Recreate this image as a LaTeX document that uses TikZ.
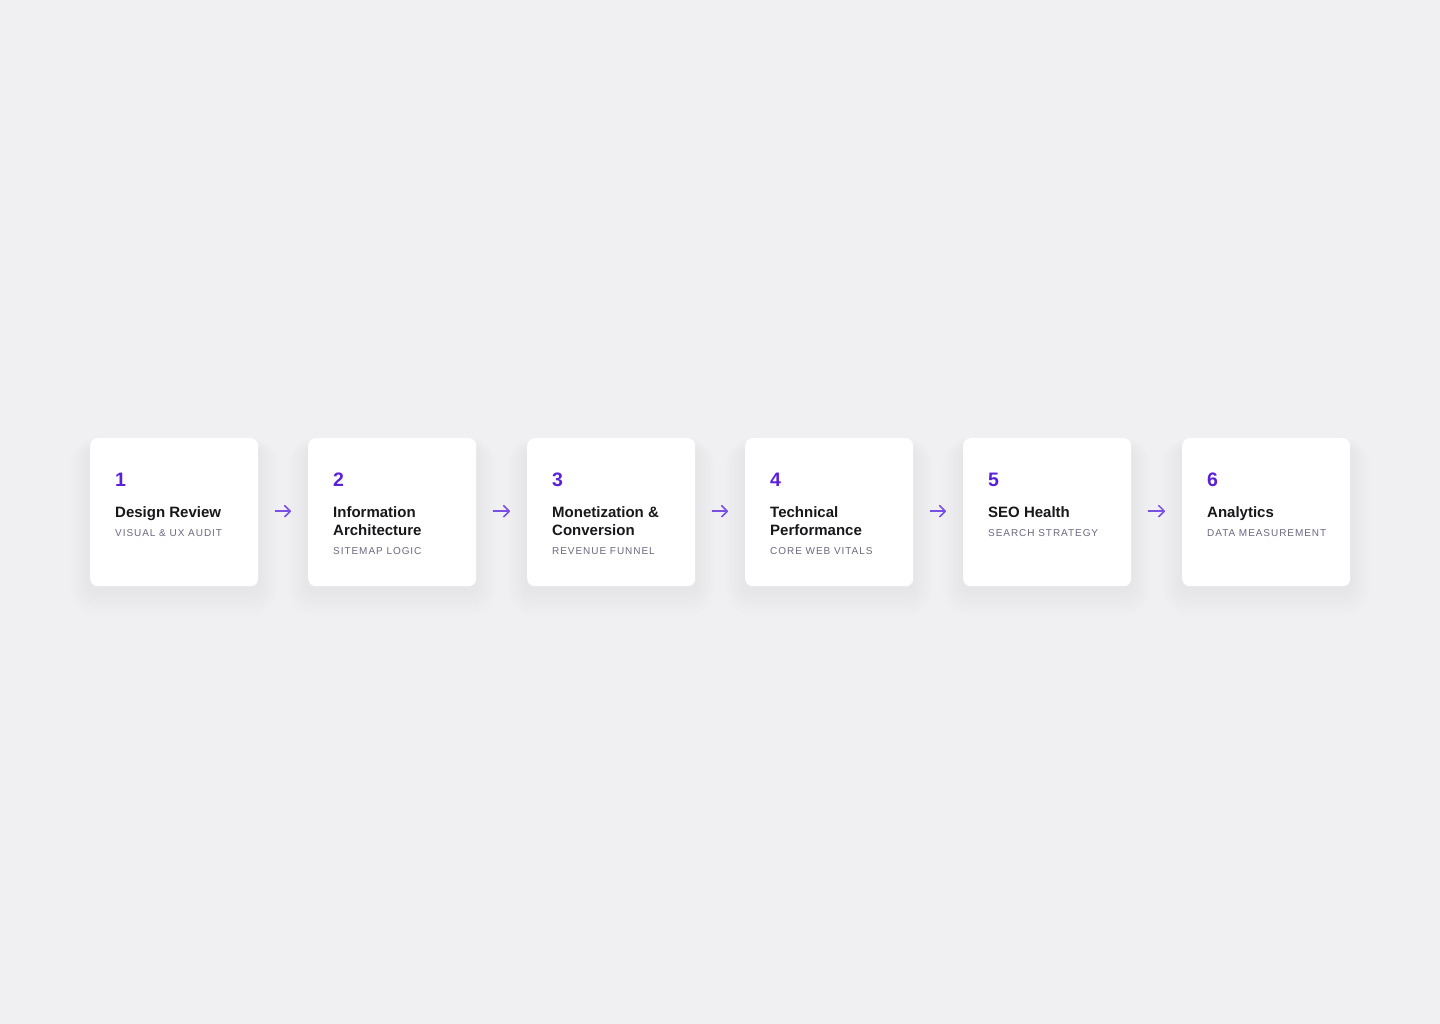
\documentclass[tikz,border=0pt]{standalone}
\usepackage{fontspec}
\setmainfont{Liberation Sans}
\newfontfamily\subfont[LetterSpace=9.5]{Liberation Sans}
\usetikzlibrary{arrows.meta}
\definecolor{bgc}{HTML}{F0F0F3}
\definecolor{numc}{HTML}{5B21D9}
\definecolor{arrc}{HTML}{7A4FE3}
\definecolor{titc}{HTML}{18181C}
\definecolor{subc}{HTML}{6B6880}
\definecolor{shc}{HTML}{7A7799}
\tikzset{
  card/.style={fill=white, rounded corners=7.5pt, minimum width=168pt, minimum height=148pt, inner sep=0pt, anchor=north west},
  numtxt/.style={anchor=base west, inner sep=0pt, text=numc, font=\fontsize{19.5}{22}\selectfont\bfseries},
  tittxt/.style={anchor=base west, inner sep=0pt, text=titc, font=\fontsize{15}{18}\selectfont\bfseries},
  subtxt/.style={anchor=base west, inner sep=0pt, text=subc, font=\subfont\fontsize{10}{12}\selectfont},
  flowarrow/.style={draw=arrc, line width=1.5pt, line cap=round, -{Straight Barb[length=5.5pt,width=11pt,line width=1.5pt,round]}}
}
\begin{document}
\begin{tikzpicture}[x=1pt,y=-1pt]
\fill[bgc] (0,0) rectangle (1440,1024);
\useasboundingbox (0,0) rectangle (1440,1024);
\foreach \i/\x/\nl/\ta/\tb/\sub in {
  1/90/1/Design Review//VISUAL \& UX AUDIT,
  2/308/2/Information/Architecture/SITEMAP LOGIC,
  3/527/2/Monetization \&/Conversion/REVENUE FUNNEL,
  4/745/2/Technical/Performance/CORE WEB VITALS,
  5/963/1/SEO Health//SEARCH STRATEGY,
  6/1182/1/Analytics//DATA MEASUREMENT}{
  \foreach \k in {1,...,10}{
    \fill[shc, opacity=0.006, rounded corners=7.5pt+2*\k pt]
      (\x-2*\k, 448-\k) rectangle (\x+168+2*\k, 590+2.6*\k);
  }
  \node[card] (c\i) at (\x,438) {};
  \node[numtxt] (n\i) at (\x+25,486) {\i};
  \node[tittxt] (ta\i) at (\x+25,517) {\ta};
  \ifnum\nl=2
    \node[tittxt] (tb\i) at (\x+25,535) {\tb};
    \node[subtxt] (s\i) at (\x+25,554.7) {\sub};
  \else
    \node[subtxt] (s\i) at (\x+25,536.7) {\sub};
  \fi
}
\foreach \a/\b in {1/2,2/3,3/4,4/5,5/6}{
  \draw[flowarrow] ([xshift=17pt,yshift=1pt]c\a.east) -- ([xshift=-17pt,yshift=1pt]c\b.west);
}
\end{tikzpicture}
\end{document}
